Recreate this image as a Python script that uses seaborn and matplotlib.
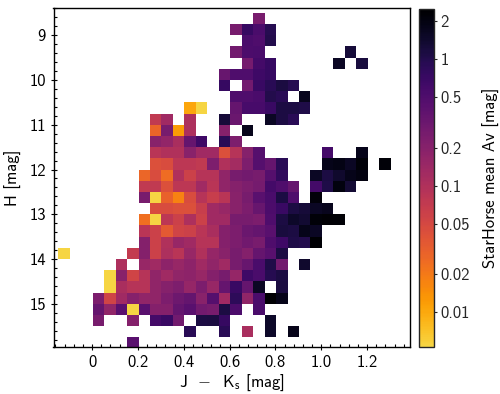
import numpy as np
import pandas as pd
import seaborn as sns
import matplotlib
matplotlib.use("Agg")
import matplotlib.pyplot as plt
from matplotlib.colors import ListedColormap, LogNorm
from matplotlib.ticker import FixedLocator, MultipleLocator, NullFormatter

_ = np.nan

# bin centres of the map
j_ks = [round(-0.125 + 0.05 * i, 3) for i in range(29)]
h_mag = [round(8.625 + 0.25 * i, 3) for i in range(30)]

# mean Av per bin, one row per H bin
mean_av = [
    [_,_,_, _,_,_,_,_,_,_,_,_,_,_,_,_, _,.25,_,_,_,_,_,_,_,_,_,_,_],
    [_,_,_, _,_,_,_,_,_,_,_,_,_,_,_,.26, .75,.55,.95,_,_,_,_,_,_,_,_,_,_],
    [_,_,_, _,_,_,_,_,_,_,_,_,_,_,_,_, .55,.5,1.0,_,_,_,_,_,_,_,_,_,_],
    [_,_,_, _,_,_,_,_,_,_,_,_,_,_,_,.28, .52,.55,_,_,_,_,_,_,_,1.25,_,_,_],
    [_,_,_, _,_,_,_,_,_,_,_,_,_,_,_,_, .27,.6,.75,_,_,_,_,_,1.6,_,1.2,_,_],
    [_,_,_, _,_,_,_,_,_,_,_,_,_,_,.33,.5, .5,.65,.75,_,_,_,_,_,_,_,_,_,_],
    [_,_,_, _,_,_,_,_,_,_,_,_,_,_,.75,_, .28,.72,.9,1.15,.95,_,_,_,_,_,_,_,_],
    [_,_,_, _,_,_,_,_,_,_,_,_,_,_,_,.5, .5,.55,1.0,.9,_,1.7,_,_,_,_,_,_,_],
    [_,_,_, _,_,_,_,_,_,_,_,.0105,.0055,_,_,.35, .58,.58,.72,1.1,1.1,1.05,_,_,_,_,_,_,_],
    [_,_,_, _,_,_,_,_,.075,.13,_,.105,_,_,1.25,.32, _,_,1.6,1.1,.9,_,_,_,_,_,_,_,_],
    [_,_,_, _,_,_,_,_,.029,.26,.012,.105,_,_,.2,_, 1.75,_,_,_,_,_,_,_,_,_,_,_,_],
    [_,_,_, _,_,_,_,_,.19,.165,.11,.35,.65,_,.9,.23, _,_,_,_,_,_,_,_,_,_,_,_,_],
    [_,_,_, _,_,_,_,_,.085,.1,.1,.19,.13,.13,.042,.09, .2,.45,_,_,_,_,_,.6,_,_,1.8,_,_],
    [_,_,_, _,_,_,_,_,.042,.045,.08,.08,.075,.23,.1,.125, .23,.45,.35,.9,_,_,_,1.8,1.9,1.6,2.2,_,2.2],
    [_,_,_, _,_,_,_,.028,.047,.025,.1,.06,.09,.09,.17,.26, .28,.26,.45,.8,_,_,1.6,1.1,1.4,1.8,2.0,_,_],
    [_,_,_, _,_,_,_,.075,.075,.042,.08,.08,.13,.085,.17,.2, .23,.27,.6,.5,.35,_,.6,1.05,2.05,1.3,_,_,_],
    [_,_,_, _,_,_,_,.25,.0055,.03,.018,.047,.09,.065,.085,.19, .26,.42,.55,1.1,.5,_,2.15,_,_,_,_,_,_],
    [_,_,_, _,_,_,_,_,.045,.047,.042,.042,.065,.13,.15,.19, .24,.33,.52,.7,1.1,1.25,1.6,1.7,_,_,_,_,_],
    [_,_,_, _,_,_,_,.024,.0055,.08,.06,.105,.06,.13,.13,.26, .26,.24,.5,1.1,1.5,1.35,2.2,2.3,2.25,_,_,_,_],
    [_,_,_, _,_,_,_,.085,.06,.035,.055,.06,.085,.11,.21,.24, .32,.36,.42,1.2,1.1,1.8,1.6,_,_,_,_,_,_],
    [_,_,_, _,_,_,_,.21,.06,.1,.15,.13,.09,.09,.21,.24, .29,.25,.5,.65,1.05,1.0,2.45,_,_,_,_,_,_],
    [.0055,_,_, _,_,_,.07,.21,.06,.105,.085,.15,.1,.16,.19,.26, .21,.35,.42,1.1,_,_,_,_,_,_,_,_,_],
    [_,_,_, _,_,.105,_,.15,.13,.18,.15,.18,.13,.17,.13,.26, .33,.55,1.05,.28,_,1.4,_,_,_,_,_,_,_],
    [_,_,_, _,.0055,.19,.055,.09,.17,.13,.17,.18,.15,.21,.26,.16, .65,.55,.95,1.1,_,_,_,_,_,_,_,_,_],
    [_,_,_, _,.0055,.11,.09,.09,.17,.2,.23,.16,.24,.15,.35,.7, .35,1.6,_,1.15,_,_,_,_,_,_,_,_,_],
    [_,_,_, .24,.055,.13,.2,.17,.17,.24,.3,.36,.19,.45,.13,.85, .17,.55,2.3,1.8,_,_,_,_,_,_,_,_,_],
    [_,_,_, .35,.17,.43,.0055,.42,.21,.21,.36,.42,.28,.26,1.1,.52, _,.55,_,_,_,_,_,_,_,_,_,_,_],
    [_,_,_, .26,_,_,.21,_,.6,.72,.28,_,1.1,1.15,.75,_, _,_,1.5,_,_,_,_,_,_,_,_,_,_],
    [_,_,_, _,_,_,_,_,_,_,_,.9,_,_,.9,_, .11,_,1.5,_,1.8,_,_,_,_,_,_,_,_],
    [_,_,_, _,_,_,.42,_,_,_,_,_,_,_,_,_, _,_,_,_,_,_,_,_,_,_,_,_,_],
]

x_ticks = [0, 0.2, 0.4, 0.6, 0.8, 1.0, 1.2]
x_labels = ["0", "0.2", "0.4", "0.6", "0.8", "1.0", "1.2"]
y_ticks = [9, 10, 11, 12, 13, 14, 15]
cbar_ticks = [2, 1, 0.5, 0.2, 0.1, 0.05, 0.02, 0.01]
cbar_labels = ["2", "1", "0.5", "0.2", "0.1", "0.05", "0.02", "0.01"]

# long form table for histplot, empty bins dropped
df = pd.DataFrame(mean_av, index=h_mag, columns=j_ks).stack().reset_index()
df.columns = ["H", "JK", "Av"]
df["JK"] = df["JK"] + 0.003

sns.set_theme(style="ticks")
plt.rcParams["font.family"] = ["cmss10", "DejaVu Sans"]
plt.rcParams["mathtext.fontset"] = "cm"
plt.rcParams["axes.unicode_minus"] = False
plt.rcParams["text.color"] = "black"
plt.rcParams["axes.labelcolor"] = "black"

# inferno with the pale end cut off, reversed
cmap = ListedColormap(plt.get_cmap("inferno")(np.linspace(0, 0.9, 256))[::-1])
norm = LogNorm(vmin=0.0053, vmax=2.47)

fig = plt.figure(figsize=(5, 3.94), dpi=100)
ax = fig.add_axes([53.5 / 500, 1 - 347.3 / 394, 356 / 500, 339 / 394])
cax = fig.add_axes([419.3 / 500, 1 - 347.3 / 394, 14.5 / 500, 338 / 394])

sns.histplot(
    data=df, x="JK", y="H", weights="Av",
    binwidth=(0.05, 0.25), binrange=((-0.147, 1.303), (8.5, 16.0)),
    cmap=cmap, ax=ax,
)
mesh = ax.collections[0]
mesh.set_norm(norm)

ax.set_xlim(-0.168, 1.385)
ax.set_ylim(15.97, 8.40)
ax.set_xticks(x_ticks)
ax.set_xticklabels(x_labels)
ax.set_yticks(y_ticks)
ax.xaxis.set_minor_locator(MultipleLocator(0.04))
ax.yaxis.set_minor_locator(MultipleLocator(0.2))
ax.tick_params(which="major", direction="inout", length=5, width=0.8, labelsize=12, colors="black", pad=3)
ax.tick_params(which="minor", direction="in", length=2.5, width=0.8, colors="black")
ax.set_xlabel(r"J  $-$  K$_{\mathsf{s}}$ [mag]", fontsize=12, labelpad=2)
ax.set_ylabel("H [mag]", fontsize=12, labelpad=5)
for side in ax.spines.values():
    side.set_linewidth(1.0)
    side.set_color("black")

cbar = fig.colorbar(mesh, cax=cax)
cbar.set_ticks(cbar_ticks)
cbar.set_ticklabels(cbar_labels)
cax.yaxis.set_minor_locator(FixedLocator([]))
cax.yaxis.set_minor_formatter(NullFormatter())
cax.tick_params(which="major", direction="inout", length=4, width=0.8, labelsize=12, pad=3)
cbar.set_label("StarHorse mean Av [mag]", fontsize=12, labelpad=9)
cbar.outline.set_linewidth(1.0)

fig.savefig("out.png", dpi=100)
